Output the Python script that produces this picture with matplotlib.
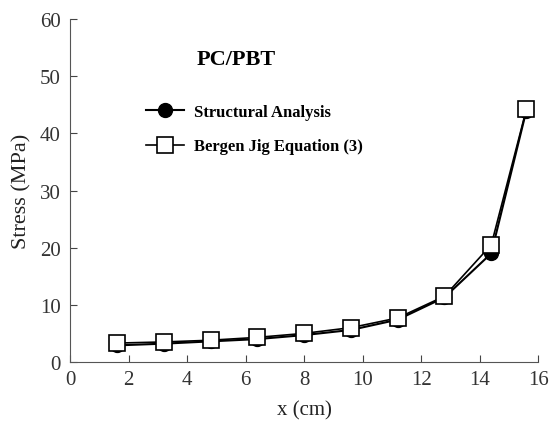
import matplotlib
matplotlib.use('Agg')
import matplotlib.pyplot as plt

# data
x_cm = [1.6, 3.2, 4.8, 6.4, 8.0, 9.6, 11.2, 12.8, 14.4, 15.6]
stress_structural = [2.9, 3.2, 3.6, 4.0, 4.7, 5.6, 7.4, 11.3, 19.0, 44.0]
stress_bergen = [3.3, 3.5, 3.8, 4.3, 5.0, 6.0, 7.7, 11.5, 20.5, 44.2]

plt.rc('font', family='Liberation Serif', size=13)

fig = plt.figure(figsize=(5.57, 4.27), dpi=100)
ax = fig.add_axes([0.126, 0.15, 0.84, 0.803])

ax.plot(x_cm, stress_structural, 'k-', marker='o', markersize=10, lw=1.5,
        label='Structural Analysis')
ax.plot(x_cm, stress_bergen, 'k-', marker='s', markersize=11, lw=1.2,
        markerfacecolor='white', markeredgewidth=1.2, label='Bergen Jig Equation (3)')

ax.set_xlim(0, 16)
ax.set_ylim(0, 60)
ax.set_xticks(range(0, 17, 2))
ax.set_yticks(range(0, 61, 10))
ax.set_xlabel('x (cm)', fontsize=15, labelpad=8, color='#222222')
ax.set_ylabel('Stress (MPa)', fontsize=16, labelpad=6, color='#222222')
ax.tick_params(direction='in', length=5, colors='#444444', labelcolor='#333333', labelsize=15)
ax.tick_params(axis='x', pad=6)
ax.tick_params(axis='y', pad=7)
for s in ('left', 'bottom'):
    ax.spines[s].set_color('#555555')
ax.spines['right'].set_visible(False)
ax.spines['top'].set_visible(False)

ax.text(0.355, 0.883, 'PC/PBT', transform=ax.transAxes, fontsize=16,
        fontweight='bold', ha='center', va='center')
ax.legend(loc='upper left', bbox_to_anchor=(0.13, 0.796), frameon=False,
          prop={'weight': 'bold', 'size': 12}, handlelength=2.3, labelspacing=1.1,
          handletextpad=0.6)

fig.savefig('out.png', dpi=100)
